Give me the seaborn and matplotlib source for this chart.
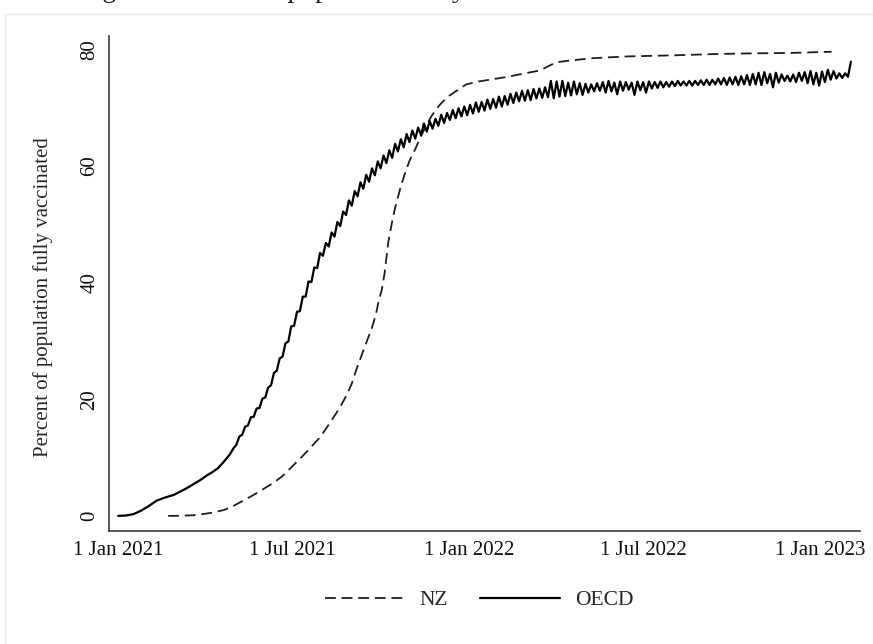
import numpy as np
import pandas as pd
import matplotlib
matplotlib.use("Agg")
import matplotlib.pyplot as plt
from matplotlib.patches import Rectangle
import seaborn as sns

# ---------------- data ----------------
start_date = "2021-01-01"

oecd_days = [0, 8, 16, 24, 32, 40, 48, 52, 58, 64, 72, 80, 86, 92, 98, 104, 110, 116,
             120, 123, 126, 129, 132, 135, 138, 141, 144, 147, 150, 153, 156, 159, 162, 165,
             168, 171, 174, 177, 180, 183, 186, 189, 192, 195, 198, 201, 204, 207, 210, 213,
             216, 219, 222, 225, 228, 231, 234, 237, 240, 243, 246, 249, 252, 255, 258, 261,
             264, 267, 270, 273, 276, 279, 282, 285, 288, 291, 294, 297, 300, 303, 306, 309,
             312, 315, 318, 321, 324, 327, 330, 333, 336, 339, 342, 345, 348, 351, 354, 357,
             360, 363, 366, 369, 372, 375, 378, 381, 384, 387, 390, 393, 396, 399, 402, 405,
             408, 411, 414, 417, 420, 423, 426, 429, 432, 435, 438, 441, 444, 447, 450, 453,
             456, 459, 462, 465, 468, 471, 474, 477, 480, 483, 486, 489, 492, 495, 498, 501,
             504, 507, 510, 513, 516, 519, 522, 525, 528, 531, 534, 537, 540, 543, 546, 549,
             552, 555, 558, 561, 564, 567, 570, 573, 576, 579, 582, 585, 588, 591, 594, 597,
             600, 603, 606, 609, 612, 615, 618, 621, 624, 627, 630, 633, 636, 639, 642, 645,
             648, 651, 654, 657, 660, 663, 666, 669, 672, 675, 678, 681, 684, 687, 690, 693,
             696, 699, 702, 705, 708, 711, 714, 717, 720, 723, 726, 729, 732, 735, 738, 741,
             744, 747, 750, 753, 756, 759, 762]
oecd_values = [0.0, 0.05, 0.3, 0.9, 1.7, 2.6, 3.1, 3.3, 3.6, 4.1, 4.8, 5.6, 6.2, 6.9, 7.5, 8.2, 9.3, 10.5,
               11.6, 12.2, 13.6, 13.9, 15.3, 15.5, 16.9, 17.0, 18.4, 18.5, 20.1, 20.3, 22.0, 22.4, 24.5, 24.9,
               27.0, 27.3, 29.6, 29.9, 32.5, 32.6, 35.0, 35.1, 37.6, 37.6, 40.2, 40.1, 42.6, 42.5, 45.1, 44.6,
               46.8, 46.2, 48.6, 47.9, 50.4, 49.7, 52.2, 51.6, 54.1, 53.2, 55.7, 54.8, 57.2, 56.1, 58.5, 57.3,
               59.6, 58.4, 60.8, 59.6, 61.8, 60.5, 62.7, 61.4, 63.8, 62.5, 64.6, 63.2, 65.5, 64.1, 66.1, 64.7,
               66.6, 65.3, 67.3, 65.9, 67.7, 66.4, 68.1, 66.9, 68.8, 67.4, 69.1, 67.9, 69.6, 68.2, 69.9, 68.5,
               70.2, 68.7, 70.5, 69.0, 70.9, 69.3, 71.0, 69.5, 71.4, 69.8, 71.5, 70.0, 71.9, 70.2, 72.0, 70.5,
               72.4, 70.8, 72.6, 71.1, 72.9, 71.2, 73.0, 71.3, 73.2, 71.6, 73.3, 71.7, 73.5, 71.8, 74.6, 71.6,
               74.5, 71.9, 74.6, 72.0, 74.3, 72.1, 74.5, 72.3, 74.2, 72.2, 74.1, 72.6, 74.0, 72.8, 74.2, 72.9,
               74.4, 72.6, 74.6, 72.8, 74.3, 72.3, 74.5, 72.9, 74.4, 73.1, 74.3, 72.2, 74.5, 73.0, 74.4, 72.6,
               74.5, 73.3, 74.4, 73.4, 74.5, 73.5, 74.4, 73.6, 74.5, 73.7, 74.6, 73.8, 74.5, 73.8, 74.6, 73.8,
               74.6, 73.9, 74.7, 73.9, 74.8, 73.9, 74.8, 74.0, 75.0, 74.0, 75.1, 73.9, 75.2, 74.0, 75.3, 73.9,
               75.4, 74.0, 75.6, 73.9, 75.8, 74.0, 76.0, 73.9, 76.1, 74.2, 75.8, 73.5, 76.0, 74.3, 75.7, 74.6,
               75.5, 74.5, 75.7, 74.4, 76.0, 74.6, 76.1, 74.2, 76.3, 74.0, 76.0, 73.8, 76.2, 74.4, 76.5, 74.8,
               76.3, 75.0, 75.9, 75.1, 75.9, 75.3, 77.9]

nz_days = [52, 60, 70, 78, 88, 98, 110, 120, 131, 140, 149, 160, 170, 180, 191, 200, 209, 216, 222,
           228, 233, 238, 243, 248, 254, 259, 264, 268, 271, 274, 277, 281, 285, 288, 293, 298, 303,
           309, 314, 319, 326, 334, 342, 351, 362, 375, 390, 405, 420, 439, 447, 456, 470, 494, 530,
           581, 620, 650, 700, 742]
nz_values = [0.0, 0.0, 0.05, 0.1, 0.3, 0.55, 1.0, 1.7, 2.7, 3.5, 4.4, 5.5, 6.7, 8.3, 10.1, 11.7, 13.3,
             14.9, 16.4, 17.9, 19.3, 20.8, 22.7, 25.2, 27.9, 30.1, 32.3, 34.5, 36.9, 38.6, 41.5, 47.0,
             50.5, 52.8, 55.9, 58.6, 60.9, 62.9, 64.8, 66.5, 68.6, 70.4, 71.8, 72.8, 74.0, 74.5, 74.9,
             75.3, 75.8, 76.4, 77.1, 77.8, 78.1, 78.5, 78.8, 79.0, 79.2, 79.3, 79.4, 79.6]

tick_dates = ["2021-01-01", "2021-07-01", "2022-01-01", "2022-07-01", "2023-01-01"]
tick_labels = ["1 Jan 2021", "1 Jul 2021", "1 Jan 2022", "1 Jul 2022", "1 Jan 2023"]
y_ticks = [0, 20, 40, 60, 80]

title_text = "Figure 1: Share of population fully vaccinated: NZ versus OECD"
y_label = "Percent of population fully vaccinated"

# ---------------- build table ----------------
t0 = pd.Timestamp(start_date)
df = pd.concat([
    pd.DataFrame({"date": t0 + pd.to_timedelta(nz_days, unit="D"), "value": nz_values, "series": "NZ"}),
    pd.DataFrame({"date": t0 + pd.to_timedelta(oecd_days, unit="D"), "value": oecd_values, "series": "OECD"}),
], ignore_index=True)

# ---------------- style ----------------
sns.set_theme(style="white")
plt.rcParams["font.family"] = ["Liberation Serif", "DejaVu Serif"]

W, H = 873, 644
fig = plt.figure(figsize=(W / 100, H / 100), dpi=100)
fig.patch.set_facecolor("white")

# outer light frame (graph region)
fig.add_artist(Rectangle((5 / W, -0.01), 1.0, (H - 14) / H + 0.01, transform=fig.transFigure,
                         fill=False, edgecolor="#e6e6e6", linewidth=1.0))

# title, cut off at the top edge as in the source
fig.text(0.505, 1 + 3 / H, title_text, ha="center", va="baseline", fontsize=20, color="#222222")

ax_left, ax_right, ax_bottom, ax_top = 109, 860, 531, 36
ax = fig.add_axes([ax_left / W, (H - ax_bottom) / H, (ax_right - ax_left) / W, (ax_bottom - ax_top) / H])
ax.set_facecolor("white")

sns.lineplot(data=df, x="date", y="value", style="series", color="black",
             dashes={"NZ": (6.0, 3.2), "OECD": ""}, estimator=None, sort=True,
             linewidth=1.6, ax=ax)
for line in ax.get_lines():
    if line.get_linestyle() not in ("-", "solid"):
        line.set_linewidth(1.3)
        line.set_color("#1e1e1e")

handles, labels = ax.get_legend_handles_labels()
if ax.get_legend() is not None:
    ax.get_legend().remove()

# axis ranges
ax.set_xlim(t0 + pd.Timedelta(days=-9.5), t0 + pd.Timedelta(days=771.5))
ax.set_ylim(-2.6, 82.3)

ax.set_xticks([pd.Timestamp(d) for d in tick_dates])
ax.set_xticklabels(tick_labels)
ax.set_yticks(y_ticks)
ax.set_yticklabels([str(v) for v in y_ticks], rotation=90, va="center")

ax.set_xlabel("")
ax.set_ylabel(y_label, fontsize=15)
ax.yaxis.set_label_coords((53 - ax_left) / (ax_right - ax_left), (ax_bottom - 297) / (ax_bottom - ax_top))

for s in ["top", "right"]:
    ax.spines[s].set_visible(False)
for s in ["left", "bottom"]:
    ax.spines[s].set_color("#3a3a3a")
    ax.spines[s].set_linewidth(1.2)

ax.tick_params(axis="both", which="major", direction="out", length=5, width=1.1,
               color="#3a3a3a", labelsize=15, labelcolor="#111111")
ax.tick_params(axis="x", pad=2)
ax.tick_params(axis="y", pad=2)
ax.grid(False)

# legend below
fig.legend(handles, labels, loc="center", bbox_to_anchor=(0.549, 1 - 600 / H), ncol=2,
           frameon=False, fontsize=15.5, handlelength=3.7, columnspacing=1.5, handletextpad=0.7)

fig.savefig("out.png", dpi=100, facecolor="white")
